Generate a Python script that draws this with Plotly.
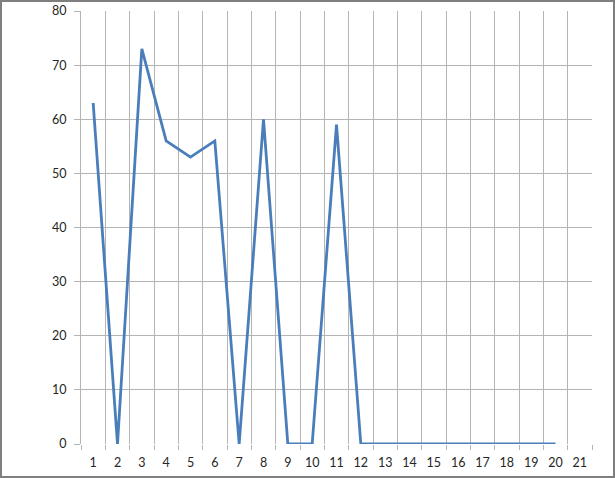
import plotly.graph_objects as go

# series values
points = list(range(1, 21))
values = [63, 0, 73, 56, 53, 56, 0, 60, 0, 0, 59, 0, 0, 0, 0, 0, 0, 0, 0, 0]
categories = list(range(1, 22))
y_ticks = list(range(0, 81, 10))

W, H = 615, 478
L, R, T, B = 81, 23, 11, 34
pw, ph = W - L - R, H - T - B

fig = go.Figure()
fig.add_trace(go.Scatter(
    x=points, y=values,
    mode="lines",
    line=dict(color="#4a7ebb", width=2.8),
    showlegend=False,
    hoverinfo="skip",
))

grid = "#b4b4b4"
fig.update_layout(
    width=W, height=H,
    margin=dict(l=L, r=R, t=T, b=B, autoexpand=False),
    paper_bgcolor="white",
    plot_bgcolor="white",
    font=dict(family="Lato, Open Sans, sans-serif", size=12.5, color="#262626"),
    xaxis=dict(
        range=[0.5, 21.5],
        tickmode="array",
        tickvals=categories,
        ticktext=[str(c) for c in categories],
        showgrid=False,
        ticks="",
        zeroline=False,
        showline=False,
        automargin=False,
        ticklabelstandoff=9,
        minor=dict(
            tickmode="array",
            tickvals=[c - 0.5 for c in categories] + [21.5],
            showgrid=True, gridcolor=grid, gridwidth=1,
            ticks="outside", ticklen=5, tickcolor=grid,
        ),
    ),
    yaxis=dict(
        range=[0, 80],
        tickvals=y_ticks,
        showgrid=True, gridcolor=grid, gridwidth=1,
        ticks="outside", ticklen=6, tickcolor=grid,
        showline=True, linecolor=grid, linewidth=1,
        zeroline=False,
        automargin=False,
        ticklabelstandoff=5,
    ),
)

# outer chart border
fig.add_shape(
    type="rect", xref="paper", yref="paper",
    x0=-(L - 1) / pw, x1=(W - L - 1) / pw,
    y0=-(B - 1) / ph, y1=(H - B - 1) / ph,
    line=dict(color="#7f7f7f", width=2),
    layer="above",
)

fig.write_html(
    "out.html",
    config={"displayModeBar": False},
    post_script="document.body.style.margin='0';",
)
